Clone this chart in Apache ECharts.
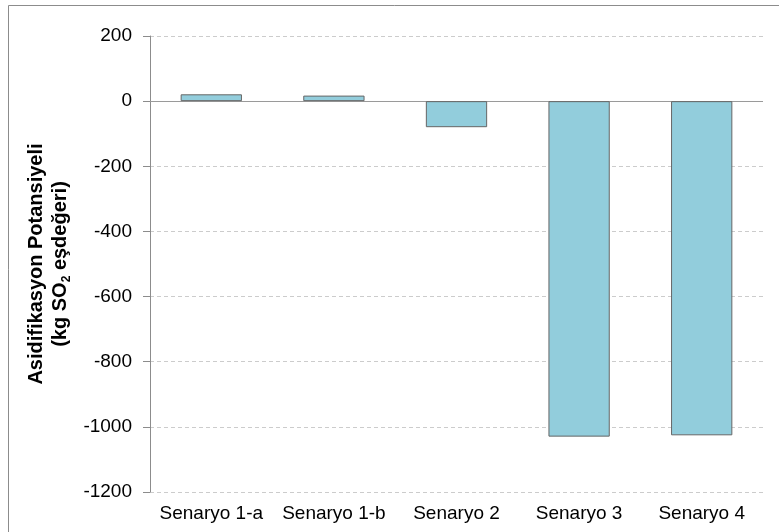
<!DOCTYPE html>
<html>
<head>
<meta charset="utf-8">
<script src="https://cdn.jsdelivr.net/npm/echarts@6/dist/echarts.min.js"></script>
<style>
  html, body { margin: 0; padding: 0; background: #fff; }
  #chart { width: 779px; height: 532px; }
</style>
</head>
<body>
<div id="chart"></div>
<script>
// Scenario names along the category axis
const categories = ['Senaryo 1-a', 'Senaryo 1-b', 'Senaryo 2', 'Senaryo 3', 'Senaryo 4'];
// Acidification potential per scenario (kg SO2 equivalent)
const values = [21, 17, -80, -1030, -1026];
// Value axis range
const yMin = -1200;
const yMax = 200;
const yStep = 200;

const FONT = '"Liberation Sans", Arial, sans-serif';

const chart = echarts.init(document.getElementById('chart'), null, { renderer: 'canvas' });

chart.setOption({
  animation: false,
  backgroundColor: '#ffffff',
  textStyle: { fontFamily: FONT },
  graphic: [{
    type: 'rect',
    shape: { x: 8.5, y: 5.5, width: 800, height: 600 },
    style: { fill: 'none', stroke: '#8c8c8c', lineWidth: 1 },
    silent: true,
    z: -1
  }],
  grid: { left: 150, right: 16, top: 36, bottom: 40, containLabel: false },
  xAxis: {
    type: 'category',
    data: categories,
    position: 'bottom',
    axisLine: { show: false, onZero: false },
    axisTick: { show: false },
    splitLine: { show: false },
    axisLabel: { color: '#000', fontSize: 19, fontFamily: FONT, margin: 12, interval: 0 }
  },
  yAxis: {
    type: 'value',
    min: yMin,
    max: yMax,
    interval: yStep,
    name: '{t|Asidifikasyon Potansiyeli}\n{t|(kg SO}{s|2}{t| eşdeğeri)}',
    nameLocation: 'middle',
    nameRotate: 90,
    nameGap: 73,
    nameTextStyle: {
      rich: {
        t: { fontSize: 20, fontWeight: 'bold', fontFamily: FONT, color: '#000', lineHeight: 24, verticalAlign: 'middle' },
        s: { fontSize: 12, fontWeight: 'bold', fontFamily: FONT, color: '#000', lineHeight: 14, verticalAlign: 'bottom' }
      }
    },
    axisLine: { show: true, lineStyle: { color: '#8c8c8c', width: 1 } },
    axisTick: { show: true, inside: false, length: 7, lineStyle: { color: '#8c8c8c', width: 1 } },
    axisLabel: {
      color: '#000', fontSize: 19, fontFamily: FONT, margin: 18,
      formatter: (v) => String(v)
    },
    splitLine: { show: true, lineStyle: { color: '#cccccc', width: 1, type: [4, 3] } }
  },
  series: [{
    type: 'bar',
    data: values,
    barWidth: '50%',
    itemStyle: { color: '#92cddc', borderColor: '#666666', borderWidth: 1 },
    markLine: {
      silent: true,
      symbol: ['none', 'none'],
      label: { show: false },
      lineStyle: { color: '#9a9a9a', width: 1, type: 'solid' },
      data: [{ yAxis: 0 }],
      z: 1
    }
  }]
});
</script>
</body>
</html>
